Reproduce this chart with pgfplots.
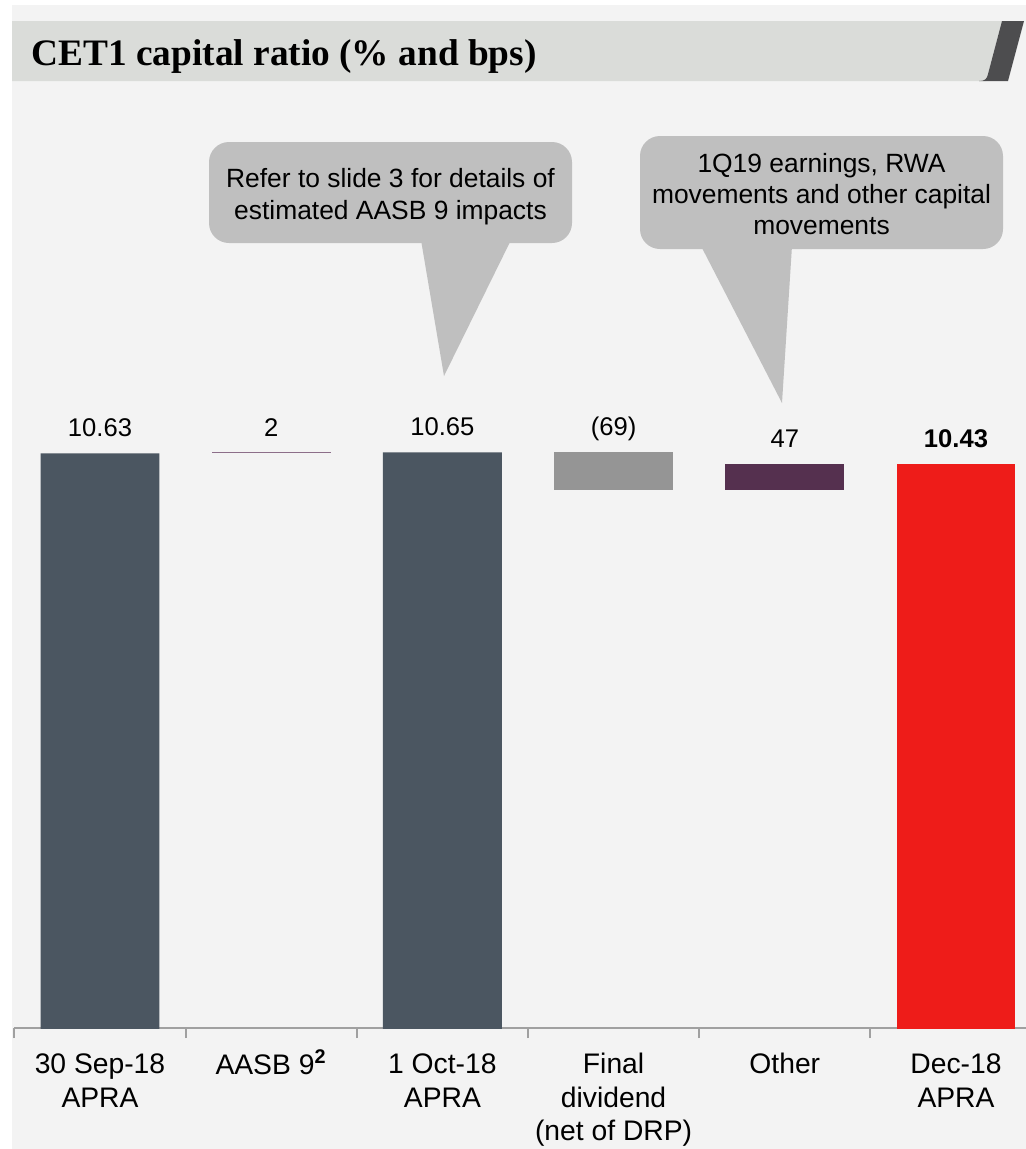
\documentclass[border=0pt]{standalone}
\usepackage{pgfplots}
\pgfplotsset{compat=1.18}
\usepackage{fontspec}
\setmainfont{Liberation Sans}
\newfontfamily\titlefont{Liberation Serif}
\definecolor{bg}{HTML}{F3F3F3}
\definecolor{band}{HTML}{DADCD9}
\definecolor{tab}{HTML}{4D4D4F}
\definecolor{slate}{HTML}{4B5661}
\definecolor{divgrey}{HTML}{959595}
\definecolor{otherc}{HTML}{55304F}
\definecolor{aasbc}{HTML}{8C6E89}
\definecolor{redc}{HTML}{EE1C19}
\definecolor{callout}{HTML}{BFBFBF}
\definecolor{axisc}{HTML}{A0A0A0}
\begin{document}
\begin{tikzpicture}
\begin{scope}[x=0.375pt,y=-0.375pt]
\fill[white] (0,0) rectangle (1026,1149);
\fill[bg] (12,5) rectangle (1026,1149);
\fill[band] (12,21) -- (1002,21) -- (986,81) -- (12,81) -- cycle;
\fill[tab] (1002,21) -- (1024,21) -- (1008,81) -- (979,81) .. controls (985,81) and (987,79) .. (988,74) -- cycle;
\node[anchor=base west, inner sep=0pt, font=\titlefont\bfseries\fontsize{14}{17}\selectfont] at (31,65) {CET1 capital ratio (\% and bps)};
\end{scope}

\begin{axis}[
  at={(5.4pt,-385.5pt)}, anchor=south west,
  x=64.2pt, y=20.66pt,
  xmin=-0.5, xmax=5.409, ymin=0.2, ymax=11,
  ybar stacked, bar width=44.6pt,
  axis x line*=bottom, axis y line=none,
  x axis line style={-, draw=axisc, line width=0.75pt},
  xtick={0,1,2,3,4,5},
  xticklabels={{\strut 30 Sep-18\\APRA},{\strut AASB 9\textsuperscript{\textbf{2}}},{\strut 1 Oct-18\\APRA},{\strut Final\\dividend\\(net of DRP)},{\strut Other},{\strut Dec-18\\APRA}},
  major tick length=0pt,
  minor xtick={-0.5,0.5,1.5,2.5,3.5,4.5},
  minor tick length=3.75pt,
  tick align=outside,
  minor x tick style={draw=axisc, line width=0.75pt},
  xticklabel style={anchor=north, inner sep=0pt, yshift=-8.05pt, align=center, font=\fontsize{10.6}{12.6}\selectfont, text=black},
]
\addplot[draw=none, fill=none, forget plot] coordinates {(0,0) (1,10.63) (2,0) (3,9.96) (4,9.96) (5,0)};
\addplot[fill=slate, draw=none] coordinates {(0,10.63) (1,0) (2,10.65) (3,0) (4,0) (5,0)};
\addplot[fill=aasbc, draw=none] coordinates {(0,0) (1,0.02) (2,0) (3,0) (4,0) (5,0)};
\addplot[fill=divgrey, draw=none] coordinates {(0,0) (1,0) (2,0) (3,0.69) (4,0) (5,0)};
\addplot[fill=otherc, draw=none] coordinates {(0,0) (1,0) (2,0) (3,0) (4,0.47) (5,0)};
\addplot[fill=redc, draw=none] coordinates {(0,0) (1,0) (2,0) (3,0) (4,0) (5,10.43)};
\coordinate (L0) at (axis cs:0,10.63);
\coordinate (L1) at (axis cs:1,10.63);
\coordinate (L2) at (axis cs:2,10.65);
\coordinate (L3) at (axis cs:3,10.65);
\coordinate (L4) at (axis cs:4,10.43);
\coordinate (L5) at (axis cs:5,10.43);
\end{axis}

\begin{scope}[every node/.style={anchor=base, yshift=6.2pt, font=\fontsize{9.6}{11}\selectfont, text=black}]
\node at (L0) {10.63};
\node at (L1) {2};
\node at (L2) {10.65};
\node at (L3) {(69)};
\node at (L4) {47};
\node at (L5) {\textbf{10.43}};
\end{scope}

\begin{scope}[x=0.375pt,y=-0.375pt, every node/.style={anchor=base, font=\fontsize{9.9}{12}\selectfont, text=black}]
\fill[callout] (421,240) -- (511,240) -- (444,376) -- cycle;
\fill[callout, rounded corners=7.5pt] (209,142) rectangle (572,243);
\node at (390.5,187) {Refer to slide 3 for details of};
\node at (390.5,219) {estimated AASB 9 impacts};
\fill[callout] (701,246) -- (792,246) -- (782,403) -- cycle;
\fill[callout, rounded corners=7.5pt] (640,136) rectangle (1003,249);
\node at (821.5,172) {1Q19 earnings, RWA};
\node at (821.5,203) {movements and other capital};
\node at (821.5,234) {movements};
\end{scope}
\pgfresetboundingbox
\path (0,0) rectangle (384.75pt,-430.875pt);
\end{tikzpicture}
\end{document}
